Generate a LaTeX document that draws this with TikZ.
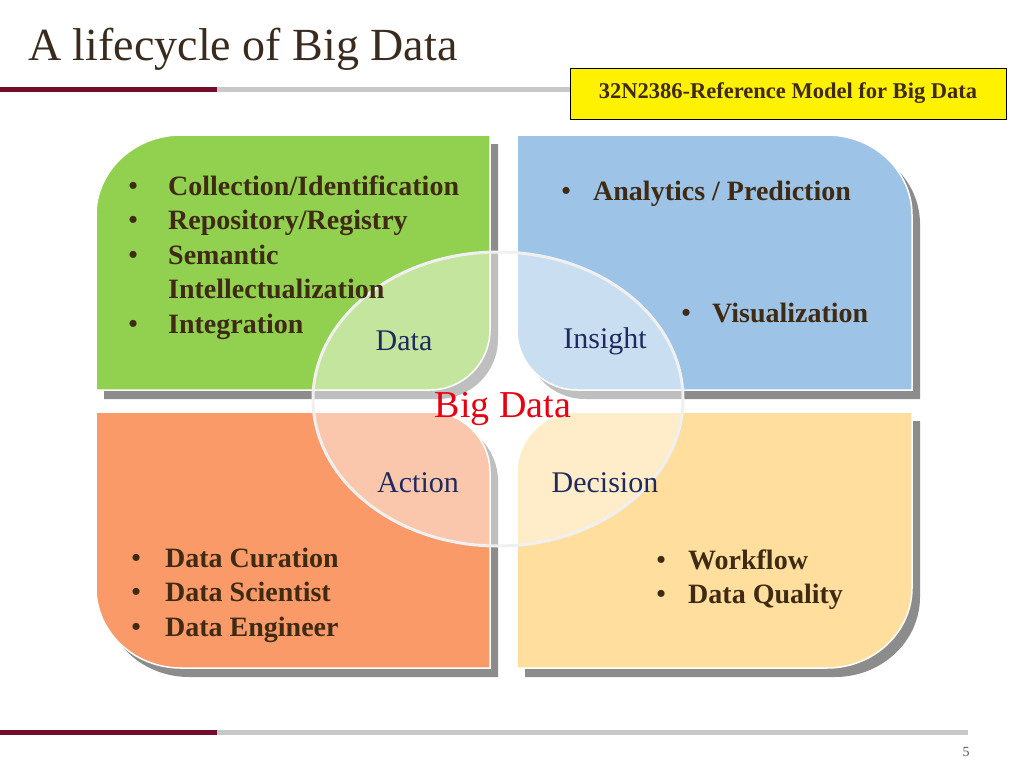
\documentclass[tikz,border=0pt]{standalone}
\usepackage{fontspec}
\setmainfont{Liberation Serif}
\usepackage{xcolor}
\definecolor{bdgreen}{HTML}{92D050}
\definecolor{bdblue}{HTML}{9DC3E6}
\definecolor{bdorange}{HTML}{F99A68}
\definecolor{bdyellow}{HTML}{FFDE9E}
\definecolor{bdshade}{HTML}{8C8C8C}
\definecolor{bdtext}{HTML}{3F2A14}
\definecolor{bdnavy}{HTML}{1F2B5E}
\definecolor{bdred}{HTML}{E60012}
\definecolor{bdmaroon}{HTML}{730D2B}
\definecolor{bdrule}{HTML}{C8C8C8}
\definecolor{bdtitle}{HTML}{3A2B1F}
\usepackage{tikz}
\usetikzlibrary{positioning}
\tikzset{
  bdlist/.style={anchor=base west,inner sep=0pt,text=bdtext,font=\fontsize{28}{34.5}\selectfont\bfseries},
  bdleaf/.style={text=bdnavy,inner sep=0pt,font=\fontsize{30}{32}\selectfont},
  bdshadow/.style={fill=bdshade,shift={(8,9)}},
  bdquad/.style={draw=white,line width=1.5pt},
}
% bullet lists with a hanging second column
\newcommand\bdbullets[2]{\begin{tabular}[t]{@{}p{#1}@{}l@{}}#2\end{tabular}}
\newcommand\bddot{\hspace{0.5pt}\raisebox{1pt}{\fontsize{26}{26}\selectfont\textbullet}}
% the four quadrant outlines
\newcommand\greenleaf[1]{\path[#1] (96,390) -- (96,215) .. controls (96,171) and (134,135) .. (181,135) -- (490,135) -- (490,330) .. controls (490,363) and (463,390) .. (430,390) -- cycle;}
\newcommand\blueleaf[1]{\path[#1] (517,135) -- (827,135) .. controls (874,135) and (912,171) .. (912,215) -- (912,390) -- (577,390) .. controls (544,390) and (517,363) .. (517,330) -- cycle;}
\newcommand\orangeleaf[1]{\path[#1] (96,412) -- (430,412) .. controls (463,412) and (490,439) .. (490,472) -- (490,668) -- (181,668) .. controls (134,668) and (96,632) .. (96,588) -- cycle;}
\newcommand\yellowleaf[1]{\path[#1] (517,472) .. controls (517,439) and (544,412) .. (577,412) -- (912,412) -- (912,588) .. controls (912,632) and (874,668) .. (827,668) -- (517,668) -- cycle;}

\begin{document}
\begin{tikzpicture}[x=1pt,y=-1pt]
\useasboundingbox[fill=white] (0,0) rectangle (1024,768);
% header and footer rules
\fill[bdmaroon] (0,87) rectangle (217,92);
\fill[bdrule] (217,87) rectangle (570,92);
\fill[bdmaroon] (0,730) rectangle (217,735);
\fill[bdrule] (217,730) rectangle (968,735);
\node[anchor=base west,inner sep=0pt,text=bdtitle,font=\fontsize{46}{50}\selectfont] (title) at (28,60) {A lifecycle of Big Data};
\node[draw=black,fill=yellow,minimum width=436pt,minimum height=51pt,text=bdtext,font=\fontsize{22.5}{26}\selectfont\bfseries] (model) at (788,93.5) {32N2386-Reference Model for Big Data};
\node[text=black!65,font=\fontsize{14}{16}\selectfont] (pageno) at (966,752) {5};
% quadrants
\greenleaf{bdshadow}
\blueleaf{bdshadow}
\orangeleaf{bdshadow}
\yellowleaf{bdshadow}
\greenleaf{bdquad,fill=bdgreen}
\blueleaf{bdquad,fill=bdblue}
\orangeleaf{bdquad,fill=bdorange}
\yellowleaf{bdquad,fill=bdyellow}
% centre lens
\path[fill=white,fill opacity=.45,draw=white!94!black,line width=3pt] (498,399) ellipse [x radius=185,y radius=147];
\node[bdleaf] (data) at (404,341) {Data};
\node[bdleaf] (insight) at (605,341) {Insight};
\node[bdleaf] (action) at (418,483) {Action};
\node[bdleaf] (decision) at (605,483) {Decision};
\node[text=bdred,inner sep=0pt,font=\fontsize{38}{40}\selectfont] (bigdata) at (503,409) {Big Data};
% lists
\node[bdlist] (collect) at (128,195) {\bdbullets{40pt}{\bddot & Collection/Identification\\ \bddot & Repository/Registry\\ \bddot & Semantic\\ & Intellectualization\\ \bddot & Integration}};
\node[bdlist] (analytics) at (561,200) {\bdbullets{32pt}{\bddot & Analytics / Prediction}};
\node[bdlist] (visual) at (681,322) {\bdbullets{31pt}{\bddot & Visualization}};
\node[bdlist] (curation) at (131,567) {\bdbullets{34pt}{\bddot & Data Curation\\ \bddot & Data Scientist\\ \bddot & Data Engineer}};
\node[bdlist] (workflow) at (656,569) {\bdbullets{32pt}{\bddot & Workflow\\ \bddot & Data Quality}};
\end{tikzpicture}
\end{document}
